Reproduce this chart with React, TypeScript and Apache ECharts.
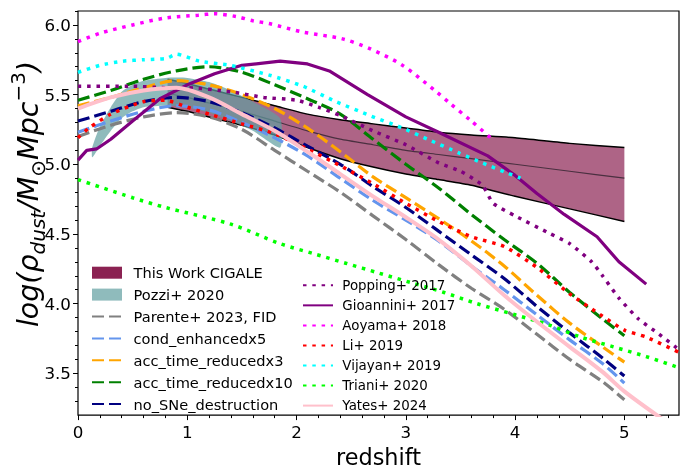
import React, { useEffect, useRef } from 'react';
import * as echarts from 'echarts';

const FONT = 'DejaVu Sans';

// Axis ticks
const xTicks = [0, 1, 2, 3, 4, 5];
const yTicks = [3.5, 4.0, 4.5, 5.0, 5.5, 6.0];

// This Work CIGALE band
const thisWorkX = [0.82, 1.0, 1.2, 1.5, 1.8, 2.1, 2.4, 2.7, 3.0, 3.3, 3.6, 4.0, 4.5, 5.0];
const thisWorkLow = [5.41, 5.38, 5.34, 5.28, 5.21, 5.12, 5.04, 4.98, 4.93, 4.89, 4.85, 4.77, 4.68, 4.59];
const thisWorkHigh = [5.61, 5.58, 5.54, 5.48, 5.42, 5.36, 5.32, 5.29, 5.26, 5.23, 5.21, 5.19, 5.15, 5.12];
const thisWorkMid = [5.51, 5.48, 5.44, 5.38, 5.31, 5.24, 5.18, 5.14, 5.10, 5.07, 5.04, 5.00, 4.95, 4.90];

// Pozzi+ 2020 band
const pozziX = [0.13, 0.2, 0.3, 0.4, 0.5, 0.6, 0.8, 1.0, 1.2, 1.4, 1.6, 1.85];
const pozziLow = [5.05, 5.13, 5.24, 5.33, 5.38, 5.41, 5.42, 5.41, 5.37, 5.31, 5.24, 5.12];
const pozziHigh = [5.12, 5.27, 5.41, 5.52, 5.57, 5.60, 5.62, 5.62, 5.59, 5.53, 5.45, 5.33];

// Parente+ 2023 models
const modelX = [0, 0.3, 0.6, 0.9, 1.2, 1.5, 1.8, 2.1, 2.4, 2.7, 3.0, 3.3, 3.6, 3.9, 4.2, 4.5, 4.8, 5.0];
const parenteFid = [5.20, 5.28, 5.34, 5.37, 5.34, 5.25, 5.10, 4.95, 4.80, 4.63, 4.46, 4.28, 4.11, 3.96, 3.78, 3.60, 3.44, 3.31];
const condEnhanced = [5.23, 5.31, 5.38, 5.42, 5.39, 5.30, 5.19, 5.06, 4.90, 4.74, 4.60, 4.45, 4.27, 4.10, 3.92, 3.74, 3.57, 3.43];
const accTimeX3 = [5.42, 5.48, 5.55, 5.60, 5.57, 5.50, 5.40, 5.26, 5.09, 4.91, 4.76, 4.61, 4.45, 4.27, 4.06, 3.86, 3.69, 3.58];
const accTimeX10 = [5.46, 5.53, 5.61, 5.67, 5.70, 5.66, 5.57, 5.47, 5.36, 5.18, 5.00, 4.83, 4.64, 4.46, 4.29, 4.08, 3.89, 3.77];
const noSNe = [5.31, 5.38, 5.45, 5.48, 5.45, 5.37, 5.26, 5.13, 5.00, 4.84, 4.69, 4.52, 4.35, 4.18, 3.98, 3.79, 3.61, 3.48];

// Literature curves
const poppingX = [0, 0.5, 0.8, 1.0, 1.4, 1.7, 2.0, 2.2, 2.4, 2.7, 3.0, 3.3, 3.5, 3.7, 3.8, 4.0, 4.3, 4.5, 4.7, 4.8, 4.95, 5.13, 5.32, 5.5];
const poppingY = [5.56, 5.56, 5.55, 5.55, 5.52, 5.48, 5.46, 5.41, 5.35, 5.24, 5.14, 5.01, 4.95, 4.85, 4.72, 4.63, 4.51, 4.43, 4.30, 4.20, 4.04, 3.89, 3.78, 3.67];
const gioanniniX = [0, 0.08, 0.17, 0.3, 0.5, 0.75, 1.0, 1.25, 1.5, 1.85, 2.1, 2.3, 2.65, 3.0, 3.3, 3.75, 4.0, 4.2, 4.45, 4.75, 4.95, 5.2];
const gioanniniY = [5.03, 5.10, 5.11, 5.18, 5.31, 5.47, 5.57, 5.65, 5.71, 5.74, 5.72, 5.67, 5.50, 5.34, 5.23, 5.06, 4.92, 4.79, 4.64, 4.48, 4.30, 4.14];
const aoyamaX = [0, 0.2, 0.5, 0.8, 1.1, 1.25, 1.45, 1.6, 1.75, 2.05, 2.42, 2.67, 2.97, 3.28, 3.4, 3.6, 3.79];
const aoyamaY = [5.88, 5.94, 6.00, 6.05, 6.07, 6.08, 6.06, 6.03, 6.01, 5.95, 5.90, 5.83, 5.71, 5.52, 5.44, 5.31, 5.18];
const liX = [0, 0.1, 0.3, 0.6, 0.8, 1.0, 1.2, 1.5, 1.8, 2.1, 2.4, 2.7, 3.0, 3.3, 3.6, 3.9, 4.2, 4.5, 4.8, 5.0, 5.2, 5.5];
const liY = [5.19, 5.26, 5.36, 5.45, 5.46, 5.41, 5.36, 5.29, 5.22, 5.11, 4.99, 4.86, 4.72, 4.59, 4.48, 4.41, 4.26, 4.07, 3.91, 3.81, 3.76, 3.65];
const vijayanX = [0, 0.2, 0.41, 0.6, 0.81, 0.9, 1.11, 1.39, 1.75, 2.06, 2.36, 2.67, 2.97, 3.2, 3.49, 3.7, 3.92, 4.05];
const vijayanY = [5.66, 5.71, 5.74, 5.75, 5.76, 5.79, 5.74, 5.71, 5.64, 5.56, 5.45, 5.35, 5.26, 5.18, 5.08, 5.01, 4.94, 4.90];
const trianiX = [0, 0.5, 0.8, 1.4, 1.85, 2.15, 2.45, 2.75, 3.05, 3.35, 3.65, 4.0, 4.3, 4.6, 4.9, 5.2, 5.5];
const trianiY = [4.89, 4.76, 4.69, 4.57, 4.43, 4.36, 4.29, 4.22, 4.15, 4.08, 4.00, 3.92, 3.85, 3.76, 3.69, 3.62, 3.54];
const yatesX = [0, 0.3, 0.6, 0.9, 1.2, 1.5, 1.8, 2.1, 2.4, 2.7, 3.0, 3.3, 3.6, 3.9, 4.2, 4.5, 4.8, 5.0, 5.35];
const yatesY = [5.40, 5.48, 5.53, 5.55, 5.48, 5.36, 5.24, 5.09, 4.93, 4.77, 4.62, 4.46, 4.27, 4.06, 3.87, 3.69, 3.51, 3.37, 3.17];

const leftNames = ['This Work CIGALE', 'Pozzi+ 2020', 'Parente+ 2023, FID', 'cond_enhancedx5', 'acc_time_reducedx3', 'acc_time_reducedx10', 'no_SNe_destruction'];
const rightNames = ['Popping+ 2017', 'Gioannini+ 2017', 'Aoyama+ 2018', 'Li+ 2019', 'Vijayan+ 2019', 'Triani+ 2020', 'Yates+ 2024'];

const DASH = [12, 5];
const DOT = [3.5, 5.8];

const pairs = (xs: number[], ys: number[]) => xs.map((x, i) => [x, ys[i]]);

function lineSeries(name: string, xs: number[], ys: number[], color: string, width: number, type: any, smooth: number | boolean) {
  return {
    type: 'line',
    name,
    data: pairs(xs, ys),
    showSymbol: false,
    symbol: 'none',
    smooth,
    lineStyle: { color, width, type, cap: 'butt' },
    itemStyle: { color },
    emphasis: { disabled: true },
  };
}

const hiddenSymbol = { opacity: 0 };

export default function App() {
  const ref = useRef<HTMLDivElement>(null);
  useEffect(() => {
    if (!ref.current) return;
    const chart = echarts.init(ref.current, undefined, { renderer: 'svg' });
    const xMinor: number[] = [];
    for (let i = 1; i <= 27; i++) if (i % 5 !== 0) xMinor.push(Math.round(i * 2) / 10);
    const yMinor: number[] = [];
    for (let i = 33; i <= 61; i++) if (i % 5 !== 0) yMinor.push(i / 10);

    const tickStyle = { color: '#000', width: 1 };
    const option: any = {
      animation: false,
      textStyle: { fontFamily: FONT },
      grid: { left: 78, right: 5, top: 11, bottom: 48, show: true, borderColor: '#000', borderWidth: 1.2, backgroundColor: 'transparent' },
      xAxis: [
        {
          type: 'value', min: 0, max: 5.5, position: 'bottom',
          axisLine: { show: false },
          axisTick: { show: true, length: 5, lineStyle: tickStyle, customValues: xTicks },
          axisLabel: { customValues: xTicks, margin: 8, fontSize: 16.7, color: '#000', fontFamily: FONT, formatter: (v: number) => String(v) },
          splitLine: { show: false },
          name: 'redshift', nameLocation: 'middle', nameGap: 26,
          nameTextStyle: { fontSize: 22.4, color: '#000', fontFamily: FONT, lineHeight: 24 },
        },
        {
          type: 'value', min: 0, max: 5.5, position: 'bottom', gridIndex: 0,
          axisLine: { show: false },
          axisTick: { show: true, length: 3, lineStyle: tickStyle, customValues: xMinor },
          axisLabel: { show: false },
          splitLine: { show: false },
        },
      ],
      yAxis: [
        {
          type: 'value', min: 3.2, max: 6.1, position: 'left',
          axisLine: { show: false },
          axisTick: { show: true, length: 5, lineStyle: tickStyle, customValues: yTicks },
          axisLabel: { customValues: yTicks, margin: 7, fontSize: 16.7, color: '#000', fontFamily: FONT, formatter: (v: number) => v.toFixed(1) },
          splitLine: { show: false },
        },
        {
          type: 'value', min: 3.2, max: 6.1, position: 'left', gridIndex: 0,
          axisLine: { show: false },
          axisTick: { show: true, length: 3, lineStyle: tickStyle, customValues: yMinor },
          axisLabel: { show: false },
          splitLine: { show: false },
        },
      ],
      legend: [
        {
          orient: 'vertical', left: 91, top: 264.7, padding: 0, itemGap: 5.9,
          itemWidth: 30, itemHeight: 12,
          textStyle: { fontSize: 14.6, fontFamily: FONT, color: '#000', lineHeight: 16, padding: [0, 0, 0, 6.6] },
          data: leftNames.map((n, i) =>
            i === 0 ? { name: n, icon: 'rect', itemStyle: { color: '#8b2252' } }
              : i === 1 ? { name: n, icon: 'rect', itemStyle: { color: '#8fbbbc' } }
                : { name: n, itemStyle: hiddenSymbol }),
          selectedMode: false,
        },
        {
          orient: 'vertical', left: 302, top: 277.8, padding: 0, itemGap: 5.05,
          itemWidth: 30, itemHeight: 12,
          textStyle: { fontSize: 13.4, fontFamily: FONT, color: '#000', lineHeight: 15, padding: [0, 0, 0, 4.3] },
          data: rightNames.map((n) => ({ name: n, itemStyle: hiddenSymbol })),
          selectedMode: false,
        },
      ],
      graphic: [
        {
          type: 'text', x: 28, y: 194, rotation: Math.PI / 2,
          style: {
            text: '{m|log(ρ}{s|dust}{m|/M}{o|⊙}{m|Mpc}{p|−3}{m|)}',
            align: 'center', verticalAlign: 'middle',
            rich: {
              m: { fontSize: 28.5, fontStyle: 'italic', fontFamily: FONT, fill: '#000', lineHeight: 40 },
              s: { fontSize: 20, fontStyle: 'italic', fontFamily: FONT, fill: '#000', lineHeight: 20, verticalAlign: 'bottom' },
              o: { fontSize: 20, fontFamily: FONT, fill: '#000', lineHeight: 20, verticalAlign: 'bottom' },
              p: { fontSize: 20, fontFamily: FONT, fill: '#000', lineHeight: 20, verticalAlign: 'top' },
            },
          },
        },
      ],
      series: [
        {
          type: 'custom', name: 'This Work CIGALE', coordinateSystem: 'cartesian2d',
          itemStyle: { color: '#8b2252' },
          data: [[1, 5]],
          renderItem: (_p: any, api: any) => {
            const up = thisWorkX.map((x, i) => api.coord([x, thisWorkHigh[i]]));
            const lo = thisWorkX.map((x, i) => api.coord([x, thisWorkLow[i]]));
            const mid = thisWorkX.map((x, i) => api.coord([x, thisWorkMid[i]]));
            return {
              type: 'group',
              children: [
                { type: 'polygon', shape: { points: up.concat(lo.slice().reverse()), smooth: 0 }, style: { fill: 'rgba(139,34,82,0.7)', stroke: 'none' } },
                { type: 'polyline', shape: { points: up, smooth: 0.2 }, style: { fill: 'none', stroke: '#000', lineWidth: 1.5 } },
                { type: 'polyline', shape: { points: lo, smooth: 0.2 }, style: { fill: 'none', stroke: '#000', lineWidth: 1.5 } },
                { type: 'polyline', shape: { points: mid, smooth: 0.2 }, style: { fill: 'none', stroke: '#4a3040', lineWidth: 1.2 } },
              ],
            };
          },
        },
        {
          type: 'custom', name: 'Pozzi+ 2020', coordinateSystem: 'cartesian2d',
          itemStyle: { color: '#8fbbbc' },
          data: [[1, 5]],
          renderItem: (_p: any, api: any) => {
            const up = pozziX.map((x, i) => api.coord([x, pozziHigh[i]]));
            const lo = pozziX.map((x, i) => api.coord([x, pozziLow[i]]));
            return {
              type: 'polygon',
              shape: { points: up.concat(lo.slice().reverse()), smooth: 0.2 },
              style: { fill: 'rgba(95,158,160,0.7)', stroke: 'none' },
            };
          },
        },
        lineSeries('Parente+ 2023, FID', modelX, parenteFid, '#808080', 3.2, DASH, 0.3),
        lineSeries('cond_enhancedx5', modelX, condEnhanced, '#6495ED', 3.2, DASH, 0.3),
        lineSeries('acc_time_reducedx3', modelX, accTimeX3, '#FFA500', 3.2, DASH, 0.3),
        lineSeries('acc_time_reducedx10', modelX, accTimeX10, '#008000', 3.2, DASH, 0.3),
        lineSeries('no_SNe_destruction', modelX, noSNe, '#000080', 3.2, DASH, 0.3),
        lineSeries('Popping+ 2017', poppingX, poppingY, '#800080', 3.5, DOT, 0.2),
        lineSeries('Gioannini+ 2017', gioanniniX, gioanniniY, '#800080', 3.2, 'solid', false),
        lineSeries('Aoyama+ 2018', aoyamaX, aoyamaY, '#FF00FF', 3.5, DOT, 0.3),
        lineSeries('Li+ 2019', liX, liY, '#FF0000', 3.5, DOT, 0.2),
        lineSeries('Vijayan+ 2019', vijayanX, vijayanY, '#00FFFF', 3.5, DOT, 0.2),
        lineSeries('Triani+ 2020', trianiX, trianiY, '#00FF00', 3.5, DOT, 0.3),
        lineSeries('Yates+ 2024', yatesX, yatesY, '#FFC0CB', 4, 'solid', 0.3),
      ],
    };
    chart.setOption(option);
    return () => chart.dispose();
  }, []);
  return <div ref={ref} style={{ position: 'fixed', left: 0, top: 0, width: 684, height: 474 }} />;
}
